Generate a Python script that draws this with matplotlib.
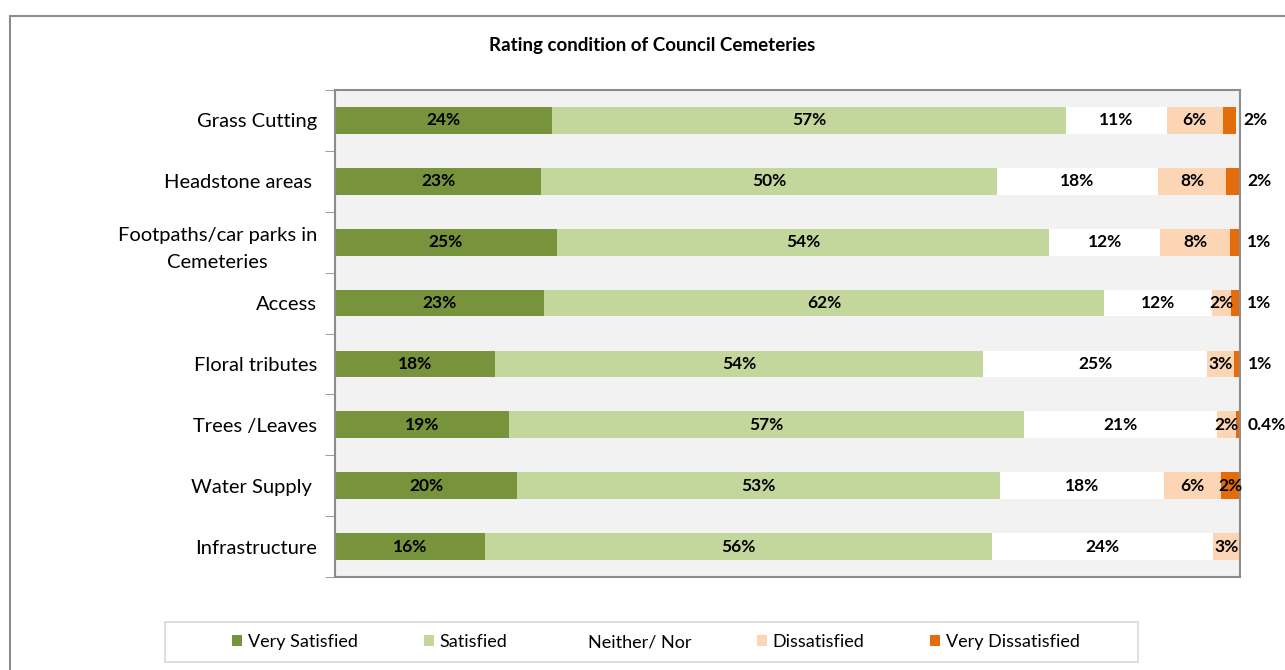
import numpy as np
import matplotlib
matplotlib.use("Agg")
import matplotlib.pyplot as plt
from matplotlib.patches import Rectangle, Patch

plt.rcParams['font.family'] = ['Lato', 'DejaVu Sans']

# data
categories = ["Grass Cutting", "Headstone areas ", "Footpaths/car parks in\nCemeteries",
              "Access", "Floral tributes", "Trees /Leaves", "Water Supply ", "Infrastructure"]
series = ["Very Satisfied", "Satisfied", "Neither/ Nor", "Dissatisfied", "Very Dissatisfied"]
very_sat = [24.0, 22.8, 24.5, 23.1, 17.7, 19.2, 20.1, 16.6]
sat = [56.8, 50.3, 54.4, 61.9, 53.9, 56.9, 53.4, 56.0]
neither = [11.1, 17.8, 12.3, 11.9, 24.8, 21.4, 18.1, 24.4]
dissat = [6.2, 7.6, 7.7, 2.1, 2.9, 2.1, 6.3, 3.0]
very_dissat = [1.5, 1.5, 1.1, 1.0, 0.8, 0.4, 2.1, 0.0]
labels_vs = ["24%", "23%", "25%", "23%", "18%", "19%", "20%", "16%"]
labels_s = ["57%", "50%", "54%", "62%", "54%", "57%", "53%", "56%"]
labels_n = ["11%", "18%", "12%", "12%", "25%", "21%", "18%", "24%"]
labels_d = ["6%", "8%", "8%", "2%", "3%", "2%", "6%", "3%"]
labels_vd = ["2%", "2%", "1%", "1%", "1%", "0.4%", "2%", ""]

colors = ["#77933c", "#c3d69b", "#ffffff", "#fcd5b5", "#e46c0a"]

fig = plt.figure(figsize=(12.85, 6.7), dpi=100)
ax = fig.add_axes([335/1285, 1-577/670, 905/1285, 487/670])
ax.set_facecolor("#f2f2f2")

y = np.arange(len(categories))
data = [very_sat, sat, neither, dissat, very_dissat]
all_labels = [labels_vs, labels_s, labels_n, labels_d, labels_vd]
left = np.zeros(len(categories))
for vals, col, name, labs in zip(data, colors, series, all_labels):
    vals = np.array(vals)
    ax.barh(y, vals, left=left, height=0.44, color=col, label=name)
    for i, (v, l) in enumerate(zip(vals, labs)):
        if not l:
            continue
        if name == "Very Dissatisfied" and v < 2:
            ax.text(left[i] + v + 0.8, i, l, ha="left", va="center",
                    fontsize=12.5, fontweight="bold", clip_on=False)
        else:
            ax.text(left[i] + v / 2, i, l, ha="center", va="center",
                    fontsize=12.5, fontweight="bold")
    left += vals

ax.set_xlim(0, 100)
ax.set_ylim(len(categories) - 0.5, -0.5)
ax.set_xticks([])
ax.set_yticks(y)
ax.set_yticklabels(categories, fontsize=14.5, ha="right", multialignment="center",
                   linespacing=1.75)
ax.tick_params(axis="y", length=0, pad=13)
ax.set_yticks(np.arange(-0.5, len(categories)), minor=True)
ax.tick_params(axis="y", which="minor", length=7, color="#8c8c8c")
for s in ax.spines.values():
    s.set_color("#8c8c8c")
    s.set_linewidth(1.5)

fig.text(652/1285, 1-45/670, "Rating condition of Council Cemeteries",
         ha="center", va="center", fontsize=13.5, fontweight="bold")

# outer chart border
fig.patches.append(Rectangle((10/1285, -0.1), 1.2, 1.1 - 16/670, transform=fig.transFigure,
                             fill=False, edgecolor="#8c8c8c", linewidth=1.5))

# legend box
fig.patches.append(Rectangle((165/1285, 1-662/670), 973/1285, 40/670, transform=fig.transFigure,
                             fill=False, edgecolor="#d9d9d9", linewidth=1.2))
handles = [Patch(facecolor=c, edgecolor="none") for c in colors]
leg = fig.legend(handles, series, loc="center", bbox_to_anchor=(656/1285, 1-642/670),
                 ncol=5, frameon=False, fontsize=13,
                 handlelength=0.55, handleheight=0.55, handletextpad=0.3,
                 columnspacing=3.65)

fig.savefig("out.png", dpi=100)
